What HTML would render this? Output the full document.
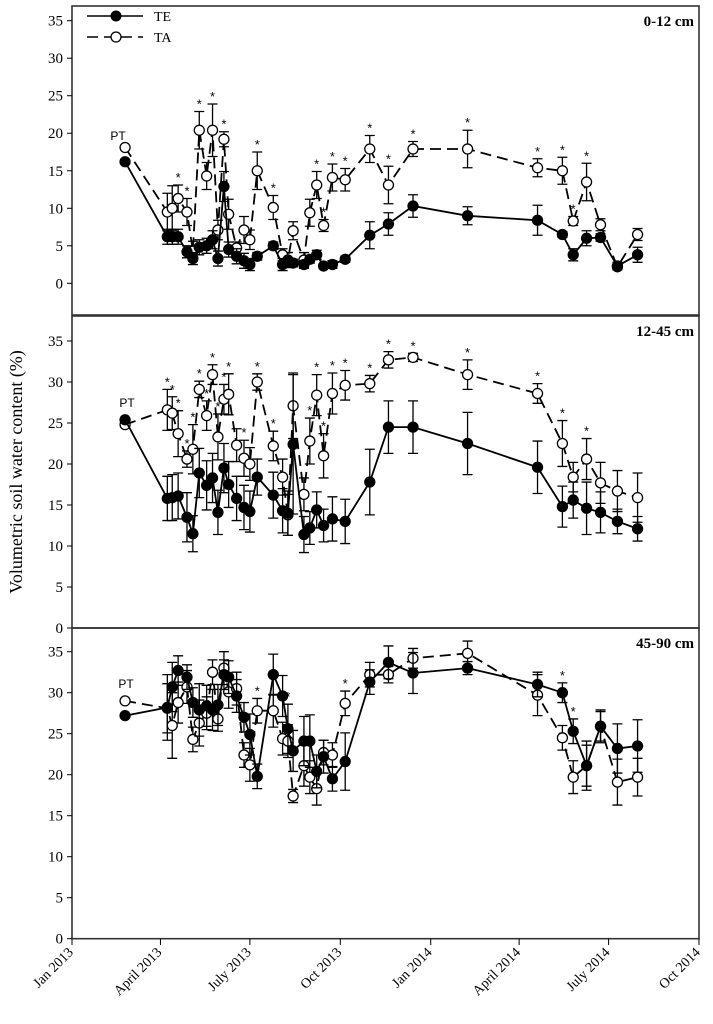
<!DOCTYPE html>
<html><head><meta charset="utf-8"><style>
html,body{margin:0;padding:0;background:#fff;}
svg{display:block;}
text{font-family:"Liberation Serif",serif;fill:#000;}
</style></head><body>
<svg id="chart" width="713" height="1024" viewBox="0 0 713 1024" xmlns="http://www.w3.org/2000/svg"></svg>
<script>
// Dates (days since 1 Jan 2013)
const days = [54,97,102,108,117,123,129.5,137,143,148.5,154.6,159.4,167.5,175,181,188.5,204.8,214.3,219.7,225,236,242,249,256,265,278,303,322,347,402.5,473.7,499,510,523.6,537.8,555,575.5];
const xTickLabels = ["Jan 2013","April 2013","July 2013","Oct 2013","Jan 2014","April 2014","July 2014","Oct 2014"];
const xTickDays = [0,90,181,273,365,455,546,638];
const yTicks = [0,5,10,15,20,25,30,35];

const teP1 = [16.2,6.2,6.2,6.2,4.2,3.3,4.8,5.0,5.8,3.3,12.9,4.5,3.6,3.0,2.5,3.6,5.0,2.5,2.9,2.7,2.5,3.2,3.8,2.3,2.5,3.2,6.4,7.9,10.3,9.0,8.4,6.5,3.8,6.0,6.1,2.3,3.8];
const taP1 = [18.1,9.5,10.0,11.3,9.5,4.3,20.4,14.3,20.4,7.1,19.2,9.2,4.7,7.1,5.8,15.0,10.1,3.8,3.1,7.0,3.1,9.4,13.1,7.7,14.1,13.8,17.9,13.1,17.9,17.9,15.4,15.0,8.3,13.5,7.8,2.2,6.5];
const teE1 = [0,1,1,1,0.8,0.8,1,1,1.2,1,2,1,1,1,0.8,0.5,0.5,0.8,0.5,0.5,0.5,0.5,0.6,0.3,0.5,0.4,1.8,1.5,1.5,1.2,2,0.4,0.8,1,0.5,0.5,1];
const taE1 = [0,2.5,3,1.8,1.8,1.3,2.5,1.8,3.5,1.3,1.0,2,0.8,1.8,1.3,2.5,1.6,0.8,1,1.2,1,1.8,1.8,0.8,1.8,1.5,1.8,2.5,1.0,2.5,1.2,1.8,0.6,2.5,0.8,0.3,0.8];
const stars1 = [0,0,0,1,1,0,1,0,1,0,1,0,0,0,0,1,1,0,0,0,0,0,1,1,1,1,1,1,1,1,1,1,1,1,0,0,0];

const teP2 = [25.4,15.8,15.9,16.1,13.5,11.5,18.9,17.4,18.3,14.1,19.5,17.5,15.8,14.7,14.2,18.4,16.2,14.3,14.0,22.4,11.4,12.2,14.4,12.5,13.3,13.0,17.8,24.5,24.5,22.5,19.6,14.8,15.6,14.6,14.1,13.0,12.1];
const taP2 = [24.8,26.6,26.2,23.7,20.6,21.8,29.1,25.9,30.9,23.3,27.9,28.5,22.3,20.7,20.0,30.0,22.2,18.4,13.8,27.1,16.3,22.8,28.4,21.0,28.6,29.6,29.8,32.7,33.0,30.9,28.6,22.5,18.4,20.6,17.7,16.7,15.9];
const teE2 = [0,2.7,2.8,2.8,3.0,2.2,3.0,3.0,3.0,2.7,3.0,2.8,2.7,2.7,2.5,2.2,2.8,2.7,2.7,8.5,2.2,2.0,2.2,2.0,2.7,2.7,4.0,3.2,3.2,3.8,3.2,2.5,2.2,3.2,2.5,1.5,1.5];
const taE2 = [0,2.5,2.0,2.8,1.0,3.0,1.0,1.8,1.2,2.8,1.8,2.5,2.0,2.2,2.0,1.0,1.8,2.2,2.5,4.0,2.0,2.8,2.5,2.7,2.5,1.8,1.0,1.0,0.5,1.8,1.2,2.8,1.8,2.5,2.5,2.5,3.0];
const stars2 = [0,1,1,1,1,1,1,1,1,1,1,1,0,1,0,1,1,0,0,0,0,1,1,1,1,1,1,1,1,1,1,1,0,1,0,0,0];

const teP3 = [27.2,28.2,30.7,32.7,31.9,28.8,27.9,28.4,27.9,28.5,32.2,31.9,29.6,27.0,24.9,19.8,32.2,29.6,25.6,22.9,24.1,24.1,20.4,22.2,19.5,21.6,31.3,33.7,32.4,33.0,31.0,30.0,25.3,21.1,25.9,23.2,23.5];
const taP3 = [29.0,28.1,26.0,28.8,30.7,24.3,26.3,27.5,32.5,26.8,33.0,30.1,30.5,22.4,21.2,27.8,27.8,24.4,24.1,17.4,21.1,19.7,18.3,22.7,22.4,28.7,32.2,32.2,34.2,34.8,29.7,24.5,19.7,21.1,25.9,19.1,19.7];
const teE3 = [0,4.0,3.0,1.8,1.5,1.8,3.2,2.5,2.5,2.5,1.8,2.0,2.0,1.8,2.5,1.5,2.5,2.5,3.0,2.5,3.0,3.2,2.0,2.0,1.5,3.5,1.5,2.0,2.5,0.8,1.5,1.2,1.5,2.5,1.8,3.0,3.2];
const taE3 = [0,3.0,4.0,2.5,2.0,1.5,2.8,2.0,1.5,1.5,2.0,2.0,2.0,1.5,2.0,1.5,2.0,2.0,2.0,0.8,2.5,2.0,2.0,1.5,1.5,1.5,1.5,1.0,1.2,1.5,2.5,1.5,2.0,3.0,2.0,2.8,2.3];
const stars3 = [0,0,0,0,0,0,0,0,0,0,0,0,0,0,0,1,0,0,1,0,0,0,0,0,0,1,0,0,0,0,0,1,1,0,0,0,0];

const panels = [
  {name:"0-12 cm", key:"top", top:6, bottom:315, y35:20.7, y0:283.3, te:teP1, ta:taP1, teE:teE1, taE:taE1, st:stars1, pt:[118,140]},
  {name:"12-45 cm", key:"middle", top:316, bottom:628, y35:341, y0:628, te:teP2, ta:taP2, teE:teE2, taE:taE2, st:stars2, pt:[127,407]},
  {name:"45-90 cm", key:"bottom", top:628, bottom:938.7, y35:651.7, y0:938.7, te:teP3, ta:taP3, teE:teE3, taE:taE3, st:stars3, pt:[126,688]}
];

const svg = document.getElementById('chart');
const NS = "http://www.w3.org/2000/svg";
const X0 = 72, X1 = 699;
function xs(d){ return X0 + d*(X1-X0)/638; }
function mk(tag, attrs, parent){
  const e = document.createElementNS(NS, tag);
  for (const k in attrs) e.setAttribute(k, attrs[k]);
  (parent||svg).appendChild(e);
  return e;
}

panels.forEach(function(p){
  const ys = v => p.y0 - v*(p.y0-p.y35)/35;
  const g = mk('g', {});
  
  
  const frame = mk('rect', {x:X0, y:p.top, width:X1-X0, height:p.bottom-p.top, fill:'none', stroke:'#333', 'stroke-width':1.6}, g);
  
  
  yTicks.forEach(function(t){
    const y = ys(t);
    const tk = mk('line', {x1:X0-5, x2:X0, y1:y, y2:y, stroke:'#000', 'stroke-width':1}, g);
    
    
    const tl = mk('text', {x:X0-9, y:y+5, 'text-anchor':'end', 'font-size':15}, g);
    tl.textContent = t;
    
    
  });
  const lab = mk('text', {x:694, y:p.top+20, 'text-anchor':'end', 'font-size':15, 'font-weight':'bold'}, g);
  lab.textContent = p.name;
  
  
  const pt = mk('text', {x:p.pt[0], y:p.pt[1], 'text-anchor':'middle', 'font-size':12, style:'font-family:"Liberation Sans",sans-serif'}, g);
  pt.textContent = 'PT';
  
  

  [['ta', p.ta, p.taE, '11,6', '#fff'], ['te', p.te, p.teE, '', '#000']].forEach(function(s){
    const vals = s[1], errs = s[2];
    vals.forEach(function(v,i){
      if (!errs[i]) return;
      const x = xs(days[i]);
      const eb = mk('path', {d:'M'+(x-5)+','+ys(v+errs[i])+'H'+(x+5)+'M'+x+','+ys(v+errs[i])+'V'+ys(v-errs[i])+'M'+(x-5)+','+ys(v-errs[i])+'H'+(x+5), stroke:'#000', 'stroke-width':1.3, fill:'none'}, g);
      
      
    });
    const d = vals.map((v,i)=>(i?'L':'M')+xs(days[i]).toFixed(1)+','+ys(v).toFixed(1)).join('');
    const ln = mk('path', {d:d, fill:'none', stroke:'#000', 'stroke-width':1.8, 'stroke-dasharray':s[3]}, g);
    
    
    vals.forEach(function(v,i){
      const c = mk('circle', {cx:xs(days[i]), cy:ys(v), r:5, fill:s[4], stroke:'#000', 'stroke-width':1.3}, g);
      
      
    });
  });
  p.st.forEach(function(f,i){
    if (!f) return;
    const top = Math.max(p.te[i]+p.teE[i], p.ta[i]+p.taE[i]);
    const st = mk('text', {x:xs(days[i]), y:ys(top)-3, 'text-anchor':'middle', 'font-size':13, style:'font-family:"Liberation Sans",sans-serif'}, g);
    st.textContent = '*';
    
    
  });
});

xTickDays.forEach(function(d,i){
  const x = xs(d);
  const tk = mk('line', {x1:x, x2:x, y1:938.7, y2:945, stroke:'#000', 'stroke-width':1});
  
  
  const t = mk('text', {x:x+2, y:953, 'text-anchor':'end', 'font-size':14, transform:'rotate(-45 '+(x+2)+' 953)'});
  t.textContent = xTickLabels[i];
  
  
});

const yt = mk('text', {x:22, y:472, 'text-anchor':'middle', 'font-size':18, transform:'rotate(-90 22 472)'});
yt.textContent = 'Volumetric soil water content (%)';



const lg = mk('g', {});


const l1 = mk('line', {x1:87, x2:143, y1:16, y2:16, stroke:'#000', 'stroke-width':1.6}, lg);


const c1 = mk('circle', {cx:116, cy:16, r:5, fill:'#000', stroke:'#000'}, lg);


const t1 = mk('text', {x:154, y:21, 'font-size':14}, lg);
t1.textContent = 'TE';


const l2 = mk('line', {x1:87, x2:143, y1:37, y2:37, stroke:'#000', 'stroke-width':1.6, 'stroke-dasharray':'11,6'}, lg);


const c2 = mk('circle', {cx:116, cy:37, r:5, fill:'#fff', stroke:'#000', 'stroke-width':1.3}, lg);


const t2 = mk('text', {x:154, y:42, 'font-size':14}, lg);
t2.textContent = 'TA';


</script>
</body></html>
